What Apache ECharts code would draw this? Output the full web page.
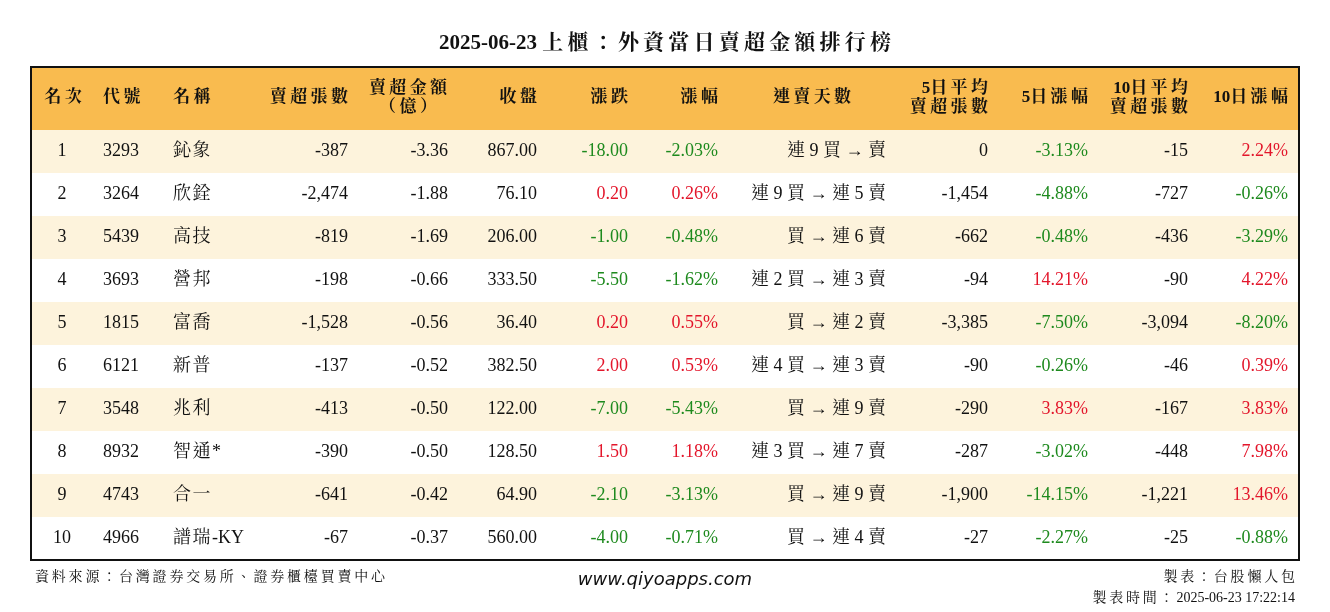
<!DOCTYPE html>
<html><head><meta charset="utf-8">
<script src="https://cdn.jsdelivr.net/npm/echarts@6/dist/echarts.min.js"></script>
<style>html,body{margin:0;padding:0;background:#fff}#main{width:1330px;height:612px}</style>
</head><body><div id="main"></div>
<script>
var ranks = [1, 2, 3, 4, 5, 6, 7, 8, 9, 10];
var codes = ['3293', '3264', '5439', '3693', '1815', '6121', '3548', '8932', '4743', '4966'];
var names = ['鈊象', '欣銓', '高技', '營邦', '富喬', '新普', '兆利', '智通*', '合一', '譜瑞-KY'];
var netShares = [-387, -2474, -819, -198, -1528, -137, -413, -390, -641, -67];
var netAmount = [-3.36, -1.88, -1.69, -0.66, -0.56, -0.52, -0.50, -0.50, -0.42, -0.37];
var closes = [867.00, 76.10, 206.00, 333.50, 36.40, 382.50, 122.00, 128.50, 64.90, 560.00];
var changes = [-18.00, 0.20, -1.00, -5.50, 0.20, 2.00, -7.00, 1.50, -2.10, -4.00];
var pcts = [-2.03, 0.26, -0.48, -1.62, 0.55, 0.53, -5.43, 1.18, -3.13, -0.71];
var streaks = ['連 9 買 → 賣', '連 9 買 → 連 5 賣', '買 → 連 6 賣', '連 2 買 → 連 3 賣', '買 → 連 2 賣',
  '連 4 買 → 連 3 賣', '買 → 連 9 賣', '連 3 買 → 連 7 賣', '買 → 連 9 賣', '買 → 連 4 賣'];
var avg5 = [0, -1454, -662, -94, -3385, -90, -290, -287, -1900, -27];
var pct5 = [-3.13, -4.88, -0.48, 14.21, -7.50, -0.26, 3.83, -3.02, -14.15, -2.27];
var avg10 = [-15, -727, -436, -90, -3094, -46, -167, -448, -1221, -25];
var pct10 = [2.24, -0.26, -3.29, 4.22, -8.20, 0.39, 3.83, 7.98, 13.46, -0.88];

var FONT = '"Liberation Serif", "Noto Serif CJK TC", "Noto Sans CJK TC", serif';
var GREEN = '#1e8a1e', RED = '#e3162b';
function fmtInt(v) { return v.toLocaleString('en-US'); }
function col(v) { return v > 0 ? RED : (v < 0 ? GREEN : '#111'); }
// loosen CJK text a little, like the reference
function sp(s, gap) {
  return s.replace(/([\u3000-\u9fff\uff00-\uffef])(?=[^\n ])/g, '$1' + (gap || '\u2009'));
}

var cols = [
  [62, 'center'], [103, 'left'], [173, 'left'], [348, 'right'], [448, 'right'], [537, 'right'],
  [628, 'right'], [718, 'right'], [886, 'right'], [988, 'right'], [1088, 'right'], [1188, 'right'], [1288, 'right']
];
var headers = [
  ['名次', 63, 'center'], ['代號', 103, 'left'], ['名稱', 173, 'left'], ['賣超張數', 348, 'right'],
  ['賣超金額\n（億）', 408, 'center'], ['收盤', 537, 'right'], ['漲跌', 628, 'right'], ['漲幅', 718, 'right'],
  ['連賣天數', 812, 'center'], ['5日平均\n賣超張數', 988, 'right'], ['5日漲幅', 1088, 'right'],
  ['10日平均\n賣超張數', 1188, 'right'], ['10日漲幅', 1288, 'right']
];

function cells(i) {
  return [
    [String(ranks[i]), '#111'], [codes[i], '#111'], [sp(names[i], '\u200a'), '#111'],
    [fmtInt(netShares[i]), '#111'], [netAmount[i].toFixed(2), '#111'], [closes[i].toFixed(2), '#111'],
    [changes[i].toFixed(2), col(changes[i])], [pcts[i].toFixed(2) + '%', col(pcts[i])],
    [streaks[i], '#111'], [fmtInt(avg5[i]), '#111'], [pct5[i].toFixed(2) + '%', col(pct5[i])],
    [fmtInt(avg10[i]), '#111'], [pct10[i].toFixed(2) + '%', col(pct10[i])]
  ];
}

var chart = echarts.init(document.getElementById('main'));
chart.setOption({
  animation: false,
  title: {
    text: sp('2025-06-23 上櫃：外資當日賣超金額排行榜'), left: 'center', top: 28,
    textStyle: { fontFamily: FONT, fontSize: 21, fontWeight: 'bold', color: '#111' }
  },
  grid: { left: 31, right: 31, top: 130, height: 430 },
  xAxis: { type: 'value', min: 0, max: 1, show: false },
  yAxis: { type: 'category', data: ranks.map(String), inverse: true, show: false },
  series: [{
    type: 'custom',
    data: ranks.map(function (r, i) { return [0, i]; }),
    encode: { x: 0, y: 1 },
    renderItem: function (params, api) {
      var i = api.value(1);
      var c = api.coord([0, i]);
      var h = api.size([0, 1])[1];
      var top = c[1] - h / 2;
      var ch = [{
        type: 'rect', shape: { x: 31, y: top, width: 1268, height: h },
        style: { fill: i % 2 === 0 ? '#fdf3dc' : '#ffffff' }
      }];
      cells(i).forEach(function (t, k) {
        ch.push({
          type: 'text', x: cols[k][0], y: c[1],
          style: { text: t[0], fill: t[1], font: '18px ' + FONT, align: cols[k][1], verticalAlign: 'middle' }
        });
      });
      return { type: 'group', children: ch };
    }
  }],
  graphic: [
    { type: 'rect', shape: { x: 31, y: 67, width: 1268, height: 63 }, style: { fill: '#f9bb4f' }, z: 0 },
    { type: 'rect', shape: { x: 31, y: 67, width: 1268, height: 493 }, style: { fill: 'none', stroke: '#111', lineWidth: 2 }, z: 10 }
  ].concat(headers.map(function (h) {
    return {
      type: 'text', x: h[1], y: 98, z: 5,
      style: { text: sp(h[0], '\u2009'), fill: '#111', font: 'bold 17px ' + FONT, align: h[2], verticalAlign: 'middle', lineHeight: 19 }
    };
  })).concat([
    { type: 'text', x: 35, y: 577, style: { text: sp('資料來源：台灣證券交易所、證券櫃檯買賣中心', '\u2009'), font: '14px ' + FONT, fill: '#111', verticalAlign: 'middle' } },
    { type: 'text', x: 665, y: 580, style: { text: 'www.qiyoapps.com', font: 'italic 18px "DejaVu Sans", sans-serif', fill: '#111', align: 'center', verticalAlign: 'middle' } },
    { type: 'text', x: 1295, y: 577, style: { text: sp('製表：台股懶人包', '\u2009'), font: '14px ' + FONT, fill: '#111', align: 'right', verticalAlign: 'middle' } },
    { type: 'text', x: 1295, y: 598, style: { text: sp('製表時間：', '\u2009') + '\u20092025-06-23 17:22:14', font: '14px ' + FONT, fill: '#111', align: 'right', verticalAlign: 'middle' } }
  ])
});
</script>
</body></html>
